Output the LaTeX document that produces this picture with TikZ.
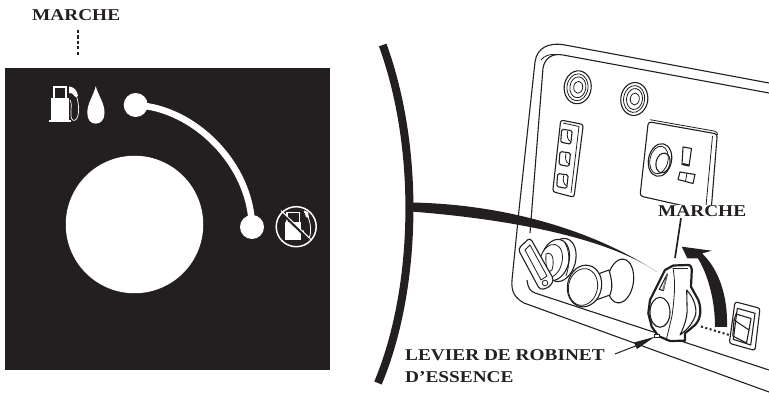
\documentclass[tikz,border=0pt]{standalone}
\usepackage{fontspec}
\setmainfont{Liberation Serif}
\newfontfamily\lblfont[FakeStretch=1.17]{Liberation Serif Bold}
\definecolor{ink}{HTML}{231F20}
\tikzset{
  lbl/.style={font=\lblfont\fontsize{16.5}{16.5}\selectfont,text=ink,inner sep=0pt,anchor=west},
  thin line/.style={draw=ink,line width=0.8pt,line join=round},
  mid line/.style={draw=ink,line width=1.1pt,line join=round},
  heavy line/.style={draw=ink,line width=2.2pt,line join=round},
}
\begin{document}
\begin{tikzpicture}[x=1pt,y=-1pt]
\useasboundingbox (0,0) rectangle (769,395);
% ---------- left dial ----------
\fill[ink] (5,68) rectangle (330,370);
\node[lbl] (topmarche) at (32,15) {MARCHE};
\coordinate (topdash) at (78,55);
\draw[ink,line width=1.1pt,dash pattern=on 3.2pt off 2.2pt] (78,30) -- (topdash);
\node[circle,fill=white,minimum size=137.5pt,inner sep=0pt] (hole) at (134.5,224.5) {};
\node[circle,fill=white,minimum size=24pt,inner sep=0pt] (dotOn) at (135.7,105) {};
\node[circle,fill=white,minimum size=24pt,inner sep=0pt] (dotOff) at (252,227) {};
\draw[white,line width=6.5pt] (dotOn.center) .. controls (195,108) and (251,165) .. (dotOff.center);
% pump icon
\fill[white] (52.7,86) rectangle (66.7,99);
\fill[ink] (54.5,88) rectangle (65,98);
\fill[white] (51,98) rectangle (68.5,120);
\fill[white] (49,120) rectangle (70.7,122.3);
\fill[white] (69,86.5) .. controls (74,87) and (77,90) .. (78,96) -- (75.5,97) .. controls (73,94) and (71,92) .. (69,93) -- cycle;
\draw[white,line width=0.7pt] (76.5,96) .. controls (79,104) and (80,116) .. (75.5,120) .. controls (72,122) and (70.5,118) .. (71,112) .. controls (71,107) and (72,103) .. (70,100);
% drop
\fill[white] (95.7,86.3) .. controls (99,97) and (104.5,103) .. (104.5,113) .. controls (104.5,120) and (100.5,123.7) .. (95.7,123.7) .. controls (91,123.7) and (87.3,120) .. (87.3,113) .. controls (87.3,103) and (93,97) .. (95.7,86.3) -- cycle;
% no-fuel icon
\fill[white] (286,212) rectangle (300,222);
\fill[ink] (288,213.5) rectangle (298.5,222);
\fill[white] (285,222) rectangle (301,240);
\draw[white,line width=0.8pt] (304,211.5) .. controls (309,216) and (312,226) .. (310,236) .. controls (308,240) and (304,236) .. (303,230);
\fill[white] (304,210.5) -- (308,212) -- (309,218) -- (306,217) -- cycle;
\draw[ink,line width=2.5pt] (280.5,212) -- (309.5,240);
\draw[white,line width=1pt] (281,210.5) -- (311,239.5);
\draw[white,line width=1.5pt] (296.2,226.7) circle[radius=20];
% ---------- bracket ----------
\draw[ink,line width=8pt] (382.7,45) .. controls (421,150) and (417,290) .. (378,383);
\coordinate (bracketjoin) at (411,207);
% ---------- panel ----------
\draw[mid line] (769,83) -- (565,45) .. controls (548,42) and (537,48) .. (535,62) -- (519,210) -- (512,280) .. controls (511,292) and (515,298) .. (524,303) -- (769,392);
\draw[mid line] (769,93) -- (563,55) .. controls (552,53) and (545,58) .. (543,68) -- (530,233);
\draw[thin line] (541,60) .. controls (544,56) and (549,54) .. (556,54.5);
\draw[mid line] (527,280) .. controls (528,288) and (530,291) .. (535,293) -- (769,370);
% bushings
\foreach \cx/\cy in {577.7/87.3,634.3/99}{
  \draw[mid line] (\cx,\cy) circle[x radius=13.5,y radius=16.5,rotate=-7];
  \draw[thin line] (\cx-0.2,\cy) circle[x radius=10.5,y radius=13.5,rotate=-7];
  \draw[thin line] (\cx+0.2,\cy) circle[x radius=8,y radius=10.5,rotate=-7];
  \draw[thin line] (\cx+0.5,\cy) circle[x radius=4.5,y radius=6,rotate=-7];
}
% terminal block
\draw[mid line,rounded corners=2.5pt] (560.7,120) -- (583.3,124.5) -- (574,197.3) -- (552.7,191.7) -- cycle;
\draw[thin line] (563,123) -- (579,126.5) -- (571,193);
\foreach \cx/\cy in {566.7/136.7,565/159,562.7/181}{
  \draw[mid line,rounded corners=1.5pt] (\cx-5,\cy-7.5) -- (\cx+5.5,\cy-6) -- (\cx+4,\cy+7.5) -- (\cx-6,\cy+5.5) -- cycle;
  \draw[thin line] (\cx+1,\cy-5.5) .. controls (\cx+0,\cy-1) and (\cx+0.5,\cy+3) .. (\cx+4,\cy+5);
}
% switch plate
\draw[mid line,rounded corners=3pt] (648.3,121.7) -- (717.3,134) -- (711,212) -- (640,196) -- cycle;
\draw[thin line] (650,119.7) -- (714,131) .. controls (717,132) and (718,133) .. (717.5,135);
\draw[thin line] (712.5,136) -- (706,206);
\draw[mid line] (660,160) circle[x radius=11.5,y radius=16.5,rotate=-12];
\draw[thin line] (659,160) circle[x radius=9,y radius=14,rotate=-12];
\draw[mid line] (663,163) circle[x radius=7,y radius=10,rotate=-12];
\draw[mid line] (683,147) -- (691.5,148.5) -- (689,166) -- (682,164.5) -- cycle;
\fill[ink] (683,163) -- (689.5,164.5) -- (689,166) -- (682,164.5) -- cycle;
\draw[mid line] (680,172) -- (695,174.5) -- (693,183.5) -- (678,179.5) -- cycle;
\draw[thin line] (687,173) -- (685.5,181);
\node[lbl,fill=white,inner ysep=1pt] (marche) at (658,211.5) {MARCHE};
% leader from bracket
\coordinate (leaderend) at (657,272);
\fill[ink] (bracketjoin) ++(0,-4.5) .. controls (500,204) and (590,228) .. (leaderend) .. controls (610,240) and (520,220) .. (411,211.5) -- cycle;
% fuel lever left
\draw[mid line,fill=white] (561,260) circle[x radius=14.5,y radius=22,rotate=-15];
\draw[mid line,fill=white] (555,260) circle[x radius=14,y radius=21,rotate=-15];
\draw[thin line,fill=white] (551,261) circle[x radius=11,y radius=17,rotate=-15];
\draw[thin line] (565,243) .. controls (570,252) and (570,264) .. (566,276);
\draw[thin line] (546,254) .. controls (552,251) and (555,259) .. (552,270) .. controls (549,274) and (545,270) .. (546,254);
\draw[mid line,fill=white,rounded corners=3.5pt] (518,249) -- (530,237.5) -- (554,280) -- (549,287.5) -- (540,290) -- cycle;
\draw[thin line] (525,250) -- (530,245) -- (547,276) -- (541,280) -- cycle;
\draw[thin line] (545,283) circle[radius=2.8];
% second knob
\draw[mid line,fill=white] (620.5,281) circle[x radius=13,y radius=22,rotate=-8];
\draw[mid line,fill=white] (598,274) -- (609,270) .. controls (612,280) and (613,288) .. (610,295) -- (596,300) -- cycle;
\draw[mid line,fill=white] (584.5,286) circle[x radius=17,y radius=21,rotate=-12];
\draw[thin line] (583,287) circle[x radius=14.5,y radius=18.5,rotate=-12];
% fuel valve lever
\draw[heavy line,fill=white] (665,270) -- (673.3,265.5) -- (688.3,265) .. controls (691,265) and (692,268) .. (691.7,272) -- (691,286.7) -- (698.3,300) .. controls (701,307) and (702,318) .. (695,325) -- (685,333.3) -- (685,340.7) -- (670,341) -- (658.3,336) -- (651.7,326.7) -- (648.3,313.3) -- (650,300) -- cycle;
\draw[mid line] (660,312.3) circle[x radius=10,y radius=15];
\draw[mid line] (667.3,274) -- (663.3,290.7) -- (659.3,289.3) -- cycle;
\fill[ink!55] (667.3,274) -- (664,290) -- (662,289) -- cycle;
\draw[thin line] (673,268) .. controls (676,285) and (674,300) .. (672,316) -- (666,341);
\draw[thin line] (673,268) -- (688,268);
\draw[mid line] (686.7,290) .. controls (694,298) and (697,308) .. (695.5,315) .. controls (693,323) and (687,330) .. (680,335) .. controls (685,325) and (688,315) .. (687,305) -- cycle;
\fill[white,draw=ink,line width=0.6pt] (654,334) rectangle (659,337.5);
% big arrow
\fill[ink] (681.7,246.7) -- (711.7,250.7) -- (702,253.5) .. controls (718,268) and (728,295) .. (727,327) -- (715,327) .. controls (715,300) and (708,275) .. (698,258.5) -- (687.3,258.3) -- cycle;
% lead line to MARCHE
\coordinate (leadlow) at (675,258);
\draw[ink,line width=1.7pt] (marche.south -| 681,219) -- (leadlow);
% dotted line
\coordinate (dotA) at (701,326.5);
\coordinate (dotB) at (729.3,335);
\draw[ink,line width=2pt,dash pattern=on 2pt off 2.5pt] (dotA) -- (dotB);
% right switch
\draw[mid line,rounded corners=2.5pt,fill=white] (735,301.7) -- (760,308.3) -- (755,350.5) -- (729.3,343.3) -- cycle;
\draw[mid line,fill=white] (737.3,308.3) -- (755,313.3) -- (750.7,345) -- (733.3,339.3) -- cycle;
\draw[mid line] (736,314) -- (751,318.5) -- (749,330) -- (734,320) -- cycle;
\draw[mid line] (734,320) -- (732.8,336) -- (746.5,343);
\draw[mid line] (749,330) -- (746.5,343);
% labels
\node[lbl] (levier) at (405,355) {LEVIER DE ROBINET};
\node[lbl] (essence) at (405,377) {D’ESSENCE};
\coordinate (tip) at (655,336.7);
\draw[ink,line width=1pt] (levier.east) ++(10,-1) -- (638,345);
\fill[ink] (tip) -- (634,342.5) -- (637,349) -- cycle;
\end{tikzpicture}
\end{document}
